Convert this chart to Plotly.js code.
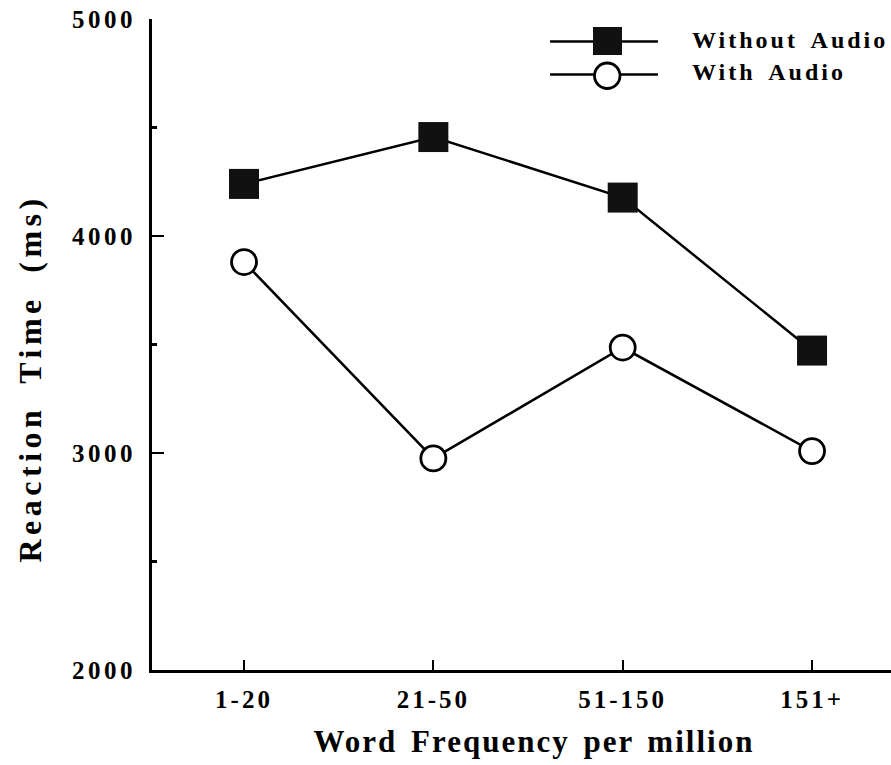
<!DOCTYPE html>
<html>
<head>
<meta charset="utf-8">
<script src="https://cdn.plot.ly/plotly-3.0.1.min.js"></script>
<style>
  html, body { margin: 0; padding: 0; background: #fff; }
  #chart { width: 891px; height: 765px; }
  .xtick text { letter-spacing: 3px; }
  .ytick text { letter-spacing: 3.5px; }
  .annotation-text { letter-spacing: 3px; word-spacing: 5px; }
  .xtitle-ann .annotation-text { letter-spacing: 2px; word-spacing: 4px; }
  .ytitle-ann .annotation-text { letter-spacing: 4.5px; word-spacing: 10px; }
</style>
</head>
<body>
<div id="chart"></div>
<script>
// ---- data ----
const categories = ["1-20", "21-50", "51-150", "151+"];
const withoutAudio = [4240, 4456, 4177, 3472];
const withAudio = [3880, 2975, 3486, 3009];
const seriesNames = ["Without Audio", "With Audio"];
const yTickVals = [2000, 3000, 4000, 5000];
const yTickText = ["2000", "3000", "4000", "5000"];
const xTitle = "Word Frequency per million";
const yTitle = "Reaction Time (ms)";

// ---- layout helpers (pixel -> paper) ----
const W = 891, H = 765;
const M = { l: 152, r: 0, t: 19, b: 95 };
const plotW = W - M.l - M.r, plotH = H - M.t - M.b;
const px = x => (x - M.l) / plotW;
const py = y => (H - M.b - y) / plotH;

const font = "'Liberation Serif', 'Times New Roman', serif";

const traces = [
  {
    x: categories, y: withoutAudio, name: seriesNames[0],
    type: "scatter", mode: "lines+markers",
    line: { color: "#000", width: 2.5 },
    marker: { symbol: "square", size: 30, color: "#111", line: { color: "#000", width: 0 } },
    showlegend: false, cliponaxis: false
  },
  {
    x: categories, y: withAudio, name: seriesNames[1],
    type: "scatter", mode: "lines+markers",
    line: { color: "#000", width: 2.5 },
    marker: { symbol: "circle", size: 25, color: "#fff", line: { color: "#000", width: 2.8 } },
    showlegend: false, cliponaxis: false
  }
];

const shapes = [
  // legend row 1
  { type: "line", xref: "paper", yref: "paper", x0: px(550), x1: px(658), y0: py(41.5), y1: py(41.5),
    line: { color: "#000", width: 2.5 } },
  { type: "rect", xref: "paper", yref: "paper", x0: px(593), x1: px(622), y0: py(27), y1: py(55),
    fillcolor: "#111", line: { color: "#000", width: 0 } },
  // legend row 2
  { type: "line", xref: "paper", yref: "paper", x0: px(550), x1: px(658), y0: py(74.5), y1: py(74.5),
    line: { color: "#000", width: 2.5 } },
  { type: "circle", xref: "paper", yref: "paper", x0: px(594.5), x1: px(620), y0: py(63), y1: py(88.5),
    fillcolor: "#fff", line: { color: "#000", width: 2.8 } }
];

const annotations = [
  { text: seriesNames[0], xref: "paper", yref: "paper", x: px(690), y: py(40), xanchor: "left", yanchor: "middle",
    showarrow: false, font: { family: font, size: 24, color: "#000", weight: "bold" } },
  { text: seriesNames[1], xref: "paper", yref: "paper", x: px(690), y: py(72), xanchor: "left", yanchor: "middle",
    showarrow: false, font: { family: font, size: 24, color: "#000", weight: "bold" } },
  { text: xTitle, xref: "paper", yref: "paper", x: px(534), y: py(741), xanchor: "center", yanchor: "middle",
    showarrow: false, font: { family: font, size: 31, color: "#000", weight: "bold" } },
  { text: yTitle, xref: "paper", yref: "paper", x: px(30), y: py(379), xanchor: "center", yanchor: "middle",
    textangle: -90, showarrow: false,
    font: { family: font, size: 32, color: "#000", weight: "bold" } }
];

const layout = {
  width: W, height: H,
  margin: M,
  paper_bgcolor: "#fff", plot_bgcolor: "#fff",
  showlegend: false,
  font: { family: font, color: "#000" },
  xaxis: {
    type: "category",
    range: [-0.486, 3.417],
    showgrid: false, zeroline: false,
    showline: true, linecolor: "#000", linewidth: 3,
    ticks: "inside", ticklen: 10, tickwidth: 2, tickcolor: "#000",
    tickfont: { family: font, size: 25, color: "#000", weight: "bold" },
    ticklabelstandoff: 5,
    fixedrange: true
  },
  yaxis: {
    range: [2000, 5000],
    tickvals: yTickVals, ticktext: yTickText,
    showgrid: false, zeroline: false,
    showline: true, linecolor: "#000", linewidth: 3,
    ticks: "inside", ticklen: 12, tickwidth: 2.5, tickcolor: "#000",
    tickfont: { family: font, size: 25, color: "#000", weight: "bold" },
    ticklabelstandoff: 8,
    minor: { tickvals: [2500, 3500, 4500], ticks: "inside", ticklen: 5, tickwidth: 2.5, tickcolor: "#000", showgrid: false },
    fixedrange: true
  },
  shapes: shapes,
  annotations: annotations
};

Plotly.newPlot("chart", traces, layout, { displayModeBar: false, staticPlot: true }).then(gd => {
  // tag the axis-title annotations so their letter spacing can be styled
  const anns = gd.querySelectorAll(".annotation");
  if (anns.length >= 4) {
    anns[2].classList.add("xtitle-ann");
    anns[3].classList.add("ytitle-ann");
  }
});
</script>
</body>
</html>
